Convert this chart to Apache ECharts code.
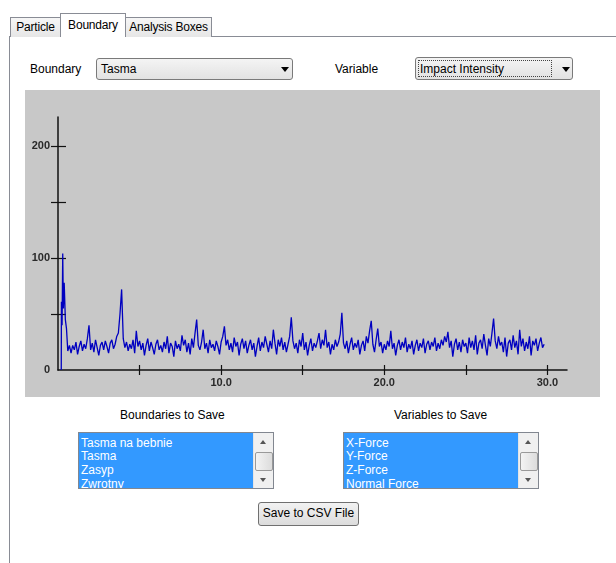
<!DOCTYPE html>
<html>
<head>
<meta charset="utf-8">
<script src="https://cdn.jsdelivr.net/npm/echarts@6/dist/echarts.min.js"></script>
<style>
  html,body{margin:0;padding:0;background:#fff;width:616px;height:563px;overflow:hidden;font-family:"Liberation Sans",Arial,sans-serif;font-size:12px;color:#000;}
  .abs{position:absolute;box-sizing:border-box;}
  .panel{left:9px;top:36px;width:640px;height:560px;border:1px solid #898c95;background:#fff;}
  .tab{top:17px;height:20px;border:1px solid #898c95;border-bottom:none;background:linear-gradient(#f6f6f6,#e6e6e6);text-align:center;line-height:19px;font-size:12px;letter-spacing:-0.2px;}
  .tab.sel{top:13px;height:24px;background:#fff;line-height:22px;z-index:2;}
  .lbl{font-size:12px;line-height:14px;white-space:nowrap;}
  .combo{border:1px solid #7a7a7a;border-radius:3px;background:linear-gradient(#f4f4f4,#e2e2e2);}
  .combo .txt{position:absolute;left:4px;top:3px;line-height:14px;}
  .arrow{position:absolute;width:0;height:0;border-left:4px solid transparent;border-right:4px solid transparent;border-top:5px solid #000;}
  .list{border:1px solid #828790;background:#fff;overflow:hidden;}
  .list .sel{position:absolute;left:0;top:0;bottom:0;background:#3399ff;}
  .list .item{position:absolute;left:2px;color:#fff;line-height:14px;white-space:nowrap;}
  .sb{position:absolute;top:0;bottom:0;right:0;width:19px;background:#f0f0f0;border-left:1px solid #e4e4e4;}
  .thumb{position:absolute;left:1px;width:16px;border:1px solid #999;border-radius:2px;background:linear-gradient(90deg,#f3f3f3,#dcdcdc);}
  .sarrow{position:absolute;left:6px;width:0;height:0;border-left:3px solid transparent;border-right:3px solid transparent;}
  .btn{border:1px solid #707070;border-radius:3px;background:linear-gradient(#f2f2f2,#dcdcdc);text-align:center;line-height:21px;font-size:12px;}
  #chart{position:absolute;left:25px;top:90px;width:575px;height:307px;}
</style>
</head>
<body>
<div class="abs panel"></div>
<div class="abs tab" style="left:10px;width:51px;">Particle</div>
<div class="abs tab sel" style="left:60px;width:66px;">Boundary</div>
<div class="abs tab" style="left:125px;width:87px;">Analysis Boxes</div>

<div class="abs lbl" style="left:30px;top:62px;">Boundary</div>
<div class="abs combo" style="left:96px;top:58px;width:197px;height:22px;">
  <div class="txt">Tasma</div>
  <div class="arrow" style="left:184px;top:8px;"></div>
</div>
<div class="abs lbl" style="left:335px;top:62px;">Variable</div>
<div class="abs combo" style="left:415px;top:57px;width:158px;height:23px;">
  <div class="abs" style="left:2px;top:2px;width:134px;height:17px;border:1px dotted #444;"></div>
  <div class="txt" style="left:4px;top:4px;">Impact Intensity</div>
  <div class="arrow" style="left:146px;top:9px;"></div>
</div>

<div id="chart"></div>

<div class="abs lbl" style="left:120px;top:408px;">Boundaries to Save</div>
<div class="abs list" style="left:78px;top:432px;width:196px;height:57px;">
  <div class="sel" style="right:19px;"></div>
  <div class="item" style="top:3px;">Tasma na bebnie</div>
  <div class="item" style="top:16px;">Tasma</div>
  <div class="item" style="top:30px;">Zasyp</div>
  <div class="item" style="top:44px;">Zwrotny</div>
  <div class="sb">
    <div class="sarrow" style="top:7px;border-bottom:4px solid #555;"></div>
    <div class="thumb" style="top:19px;height:17px;"></div>
    <div class="sarrow" style="top:45px;border-top:4px solid #555;"></div>
  </div>
</div>
<div class="abs lbl" style="left:394px;top:408px;">Variables to Save</div>
<div class="abs list" style="left:343px;top:432px;width:196px;height:57px;">
  <div class="sel" style="right:19px;"></div>
  <div class="item" style="top:3px;">X-Force</div>
  <div class="item" style="top:16px;">Y-Force</div>
  <div class="item" style="top:30px;">Z-Force</div>
  <div class="item" style="top:44px;">Normal Force</div>
  <div class="sb">
    <div class="sarrow" style="top:7px;border-bottom:4px solid #555;"></div>
    <div class="thumb" style="top:19px;height:17px;"></div>
    <div class="sarrow" style="top:45px;border-top:4px solid #555;"></div>
  </div>
</div>
<div class="abs btn" style="left:258px;top:502px;width:101px;height:24px;">Save to CSV File</div>

<script>
// ---- data (time in s, impact intensity) ----
const startSpike = [[0.2,0],[0.21,61],[0.25,40],[0.29,104],[0.33,55],[0.38,78],[0.45,45],[0.52,37],[0.6,17],[0.7,22]];
const impactSamples = [
[0.8,15],[0.9,22],[1.0,18],[1.1,25],[1.2,14],[1.3,21],[1.4,26],[1.5,17],[1.6,23],[1.7,19],[1.8,28],[1.9,40],[2.0,18],
[2.1,24],[2.2,16],[2.3,27],[2.4,20],[2.5,13],[2.6,22],[2.7,25],[2.8,18],[2.9,26],[3.0,21],[3.1,15],[3.2,24],[3.3,27],[3.4,19],[3.5,23],[3.6,30],
[3.7,33],[3.8,50],[3.9,72],[4.0,28],[4.1,20],
[4.2,25],[4.3,17],[4.4,23],[4.5,19],[4.6,27],[4.7,15],[4.8,35],[4.9,21],[5.0,26],[5.1,18],[5.2,24],[5.3,13],[5.4,22],[5.5,28],[5.6,17],[5.7,25],[5.8,20],[5.9,14],
[6.0,23],[6.1,27],[6.2,18],[6.3,22],[6.4,16],[6.5,25],[6.6,19],[6.7,30],[6.8,15],[6.9,24],[7.0,21],[7.1,12],[7.2,26],[7.3,19],[7.4,23],[7.5,17],[7.6,31],[7.7,22],[7.8,27],[7.9,16],
[8.0,24],[8.1,14],[8.2,28],[8.3,20],[8.4,33],[8.5,45],[8.6,22],[8.7,18],[8.8,25],[8.9,36],[9.0,19],[9.1,24],[9.2,15],[9.3,27],[9.4,20],[9.5,23],[9.6,17],[9.7,26],[9.8,21],[9.9,14],
[10.0,25],[10.1,30],[10.2,39],[10.3,22],[10.4,27],[10.5,18],[10.6,24],[10.7,16],[10.8,29],[10.9,21],[11.0,25],[11.1,13],[11.2,23],[11.3,28],[11.4,19],[11.5,26],[11.6,15],[11.7,22],[11.8,27],[11.9,18],
[12.0,24],[12.1,12],[12.2,21],[12.3,29],[12.4,17],[12.5,25],[12.6,20],[12.7,30],[12.8,23],[12.9,16],[13.0,26],[13.1,19],[13.2,36],[13.3,24],[13.4,14],[13.5,27],[13.6,21],[13.7,29],[13.8,18],[13.9,25],
[14.0,16],[14.1,23],[14.2,30],[14.3,47],[14.4,26],[14.5,19],[14.6,24],[14.7,15],[14.8,27],[14.9,21],[15.0,33],[15.1,18],[15.2,25],[15.3,13],[15.4,22],[15.5,28],[15.6,17],[15.7,24],[15.8,20],[15.9,26],
[16.0,33],[16.1,19],[16.2,27],[16.3,22],[16.4,36],[16.5,20],[16.6,25],[16.7,14],[16.8,23],[16.9,18],[17.0,27],[17.1,21],[17.2,25],[17.3,32],[17.4,51],[17.5,24],[17.6,19],[17.7,26],[17.8,15],[17.9,23],
[18.0,29],[18.1,18],[18.2,24],[18.3,20],[18.4,27],[18.5,14],[18.6,22],[18.7,26],[18.8,17],[18.9,30],[19.0,24],[19.1,35],[19.2,44],[19.3,23],[19.4,16],[19.5,27],[19.6,37],[19.7,21],[19.8,25],[19.9,15],
[20.0,23],[20.1,18],[20.2,26],[20.3,21],[20.4,35],[20.5,19],[20.6,24],[20.7,13],[20.8,22],[20.9,27],[21.0,18],[21.1,25],[21.2,20],[21.3,29],[21.4,16],[21.5,23],[21.6,19],[21.7,26],[21.8,14],[21.9,22],
[22.0,27],[22.1,17],[22.2,24],[22.3,20],[22.4,28],[22.5,15],[22.6,23],[22.7,26],[22.8,18],[22.9,25],[23.0,21],[23.1,29],[23.2,17],[23.3,24],[23.4,19],[23.5,27],[23.6,22],[23.7,30],[23.8,25],[23.9,34],
[24.0,20],[24.1,26],[24.2,12],[24.3,23],[24.4,28],[24.5,18],[24.6,25],[24.7,16],[24.8,27],[24.9,21],[25.0,24],[25.1,15],[25.2,29],[25.3,20],[25.4,26],[25.5,18],[25.6,31],[25.7,14],[25.8,24],[25.9,27],
[26.0,19],[26.1,32],[26.2,22],[26.3,13],[26.4,28],[26.5,21],[26.6,33],[26.7,46],[26.8,26],[26.9,19],[27.0,30],[27.1,22],[27.2,25],[27.3,16],[27.4,29],[27.5,12],[27.6,24],[27.7,27],[27.8,18],[27.9,31],
[28.0,20],[28.1,26],[28.2,14],[28.3,36],[28.4,21],[28.5,28],[28.6,17],[28.7,25],[28.8,19],[28.9,30],[29.0,13],[29.1,26],[29.2,22],[29.3,28],[29.4,17],[29.5,24],[29.6,29],[29.7,20],[29.8,23]
];
const xTickValues = [5, 10, 15, 20, 25, 30];
const xLabelValues = [10, 20, 30];
const yTickValues = [50, 100, 150, 200];
const yLabelValues = [0, 100, 200];

const axisColor = '#111';
const labelStyle = {color:'#2a2a2a', fontWeight:'bold', fontSize:11, fontFamily:'Liberation Sans'};

const chart = echarts.init(document.getElementById('chart'), null, {renderer:'canvas'});
chart.setOption({
  animation:false,
  backgroundColor:'#c8c8c8',
  grid:{left:33, top:27, width:509, height:253, containLabel:false},
  xAxis:[
    {type:'value', min:0, max:31.2, position:'bottom',
     axisLine:{show:true, onZero:false, lineStyle:{color:axisColor, width:1.5}},
     axisTick:{show:true, inside:false, length:5, customValues:xTickValues, lineStyle:{color:axisColor, width:1.2}},
     axisLabel:Object.assign({show:true, customValues:xLabelValues, margin:7, formatter:v=>v.toFixed(1)}, labelStyle),
     splitLine:{show:false}},
    {type:'value', min:0, max:31.2, position:'bottom', offset:0,
     axisLine:{show:false},
     axisTick:{show:true, inside:true, length:5, customValues:xTickValues, lineStyle:{color:axisColor, width:1.2}},
     axisLabel:{show:false}, splitLine:{show:false}}
  ],
  yAxis:[
    {type:'value', min:0, max:226, position:'left',
     axisLine:{show:true, onZero:false, lineStyle:{color:axisColor, width:1.5}},
     axisTick:{show:true, inside:false, length:7, customValues:yTickValues, lineStyle:{color:axisColor, width:1.2}},
     axisLabel:Object.assign({show:true, customValues:yLabelValues, margin:8}, labelStyle),
     splitLine:{show:false}},
    {type:'value', min:0, max:226, position:'left', offset:0,
     axisLine:{show:false},
     axisTick:{show:true, inside:true, length:8, customValues:yTickValues, lineStyle:{color:axisColor, width:1.2}},
     axisLabel:{show:false}, splitLine:{show:false}}
  ],
  series:[{
    type:'line', xAxisIndex:0, yAxisIndex:0,
    data: startSpike.concat(impactSamples),
    showSymbol:false, symbol:'none',
    lineStyle:{color:'#0000c0', width:1.3},
    clip:true
  }]
});
</script>
</body>
</html>
